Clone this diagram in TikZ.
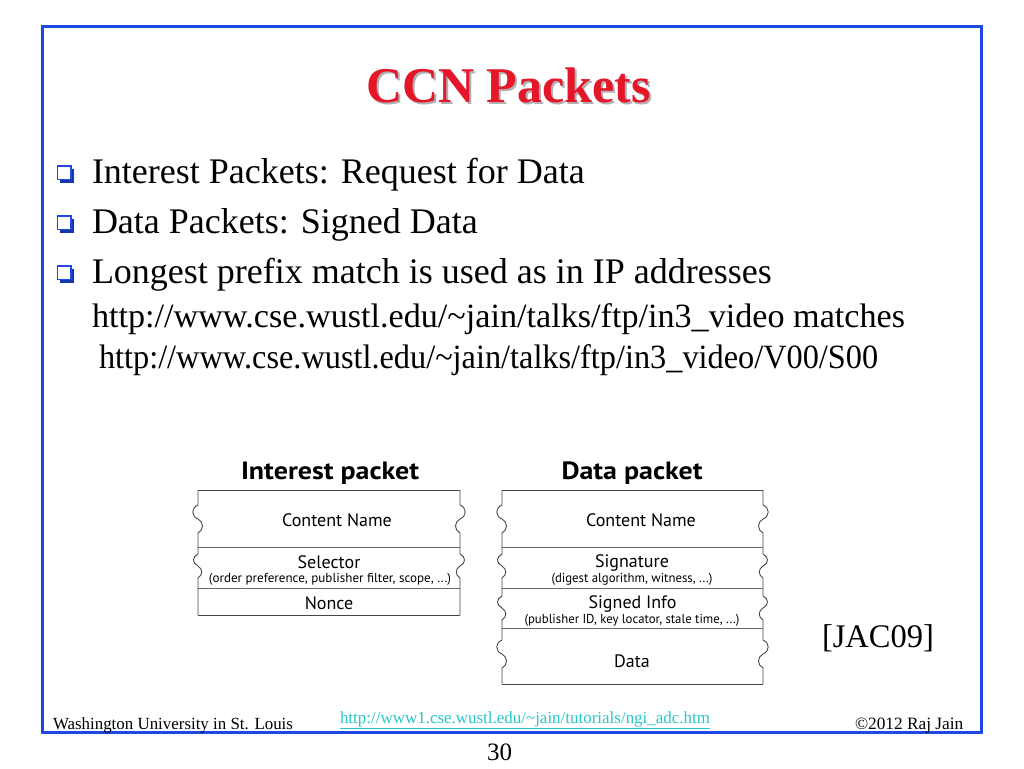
\documentclass[tikz,border=0pt]{standalone}
\usepackage{fontspec}
\usepackage{graphicx}
\setmainfont{Liberation Serif}
\newfontfamily\dsans{PT Sans}
\definecolor{frameblue}{RGB}{30,72,225}
\definecolor{titlered}{RGB}{228,22,40}
\definecolor{shadowgray}{RGB}{175,175,180}
\definecolor{urlcyan}{RGB}{40,200,200}
\definecolor{boxline}{RGB}{70,70,70}
\newcommand\fitw[2]{\resizebox{#1}{\height}{#2}}
\newcommand\shadowtext[1]{\rlap{\kern2pt\raisebox{-2.5pt}{\textcolor{shadowgray}{#1}}}\textcolor{titlered}{#1}}
\newcommand\lwave[2]{-- (#1,#2) .. controls (#1-7,#2+3) and (#1-7,#2+11) .. (#1,#2+14) .. controls (#1+6,#2+17) and (#1+6,#2+25) .. (#1,#2+28)}
\newcommand\rwave[2]{-- (#1,#2) .. controls (#1+7,#2+3) and (#1+7,#2+11) .. (#1,#2+14) .. controls (#1-6,#2+17) and (#1-6,#2+25) .. (#1,#2+28)}
\newcommand\lwaves[2]{-- (#1,#2) .. controls (#1-6,#2+3) and (#1-6,#2+9) .. (#1,#2+12) .. controls (#1+5,#2+15) and (#1+5,#2+21) .. (#1,#2+24)}
\newcommand\rwaves[2]{-- (#1,#2) .. controls (#1+6,#2+3) and (#1+6,#2+9) .. (#1,#2+12) .. controls (#1-5,#2+15) and (#1-5,#2+21) .. (#1,#2+24)}
\begin{document}
\begin{tikzpicture}[x=1pt,y=-1pt,
  txt/.style={inner sep=0pt,outer sep=0pt,anchor=base west,font=\fontsize{36}{40}\selectfont},
  foot/.style={inner sep=0pt,outer sep=0pt,anchor=base west,font=\fontsize{17}{19}\selectfont},
  lbl/.style={inner sep=0pt,outer sep=0pt,anchor=base,font=\dsans\fontsize{18}{20}\selectfont,text=black},
  sub/.style={inner sep=0pt,outer sep=0pt,anchor=base,font=\dsans\fontsize{13}{15}\selectfont,text=black},
  ptitle/.style={inner sep=0pt,outer sep=0pt,anchor=base,font=\dsans\bfseries\fontsize{25}{27}\selectfont,text=black},
  pkt/.style={draw=boxline,line width=0.9pt},
  sep/.style={draw=boxline!80,line width=0.8pt}]
\useasboundingbox (0,0) rectangle (1024,768);
\fill[white] (0,0) rectangle (1024,768);
% frame
\draw[frameblue,line width=3pt] (42,27) rectangle (981,732);
% title with its drop shadow
\node[inner sep=0pt,anchor=base,font=\bfseries\fontsize{50}{54}\selectfont] (title) at (508.5,102) {\shadowtext{CCN Packets}};
% bullets
\foreach \by/\nm in {183/b1,233/b2,283/b3}{
  \fill[frameblue!75!black] (60,\by-14) rectangle (73.5,\by-0.5);
  \draw[frameblue,fill=white,line width=1.4pt] (57.5,\by-17) rectangle (71,\by-3.5) coordinate (\nm);
}
\node[txt] (l1) at (92,183) {Interest Packets: Request for Data};
\node[txt] (l2) at (92,233) {Data Packets: Signed Data};
\node[txt] (l3) at (92,283) {Longest prefix match is used as in IP addresses};
\node[txt,font=\fontsize{34}{38}\selectfont] (l4) at (92,327) {\fitw{813pt}{http://www.cse.wustl.edu/\textasciitilde jain/talks/ftp/in3\_video matches}};
\node[txt,font=\fontsize{34}{38}\selectfont] (l5) at (99,368) {\fitw{779pt}{http://www.cse.wustl.edu/\textasciitilde jain/talks/ftp/in3\_video/V00/S00}};
% Interest packet
\node[ptitle] (ititle) at (330,479) {\fitw{178pt}{Interest packet}};
\draw[pkt] (198,490) -- (460,490);
\draw[pkt] (198,615) -- (460,615);
\draw[sep] (198,547) -- (460,547);
\draw[sep] (198,588) -- (460,588);
\draw[pkt] (198,490) \lwave{198}{505} \lwaves{198}{554} -- (198,615);
\draw[pkt] (460,490) \rwave{460}{505} \rwaves{460}{554} -- (460,615);
\node[lbl] (icn) at (337,526) {Content Name};
\node[lbl] (isel) at (329,568) {Selector};
\node[sub] (iseld) at (330,582) {\fitw{242pt}{(order preference, publisher filter, scope, ...)}};
\node[lbl] (inon) at (329,609) {Nonce};
% Data packet
\node[ptitle] (dtitle) at (632,479) {\fitw{141pt}{Data packet}};
\draw[pkt] (502,490) -- (763,490);
\draw[pkt] (502,684) -- (763,684);
\draw[sep] (502,547) -- (763,547);
\draw[sep] (502,588) -- (763,588);
\draw[sep] (502,628) -- (763,628);
\draw[pkt] (502,490) \lwave{502}{505} \lwaves{502}{554} \lwaves{502}{596} \lwave{502}{640} -- (502,684);
\draw[pkt] (763,490) \rwave{763}{505} \rwaves{763}{554} \rwaves{763}{596} \rwave{763}{640} -- (763,684);
\node[lbl] (dcn) at (641,526) {Content Name};
\node[lbl] (dsig) at (632,567) {Signature};
\node[sub] (dsigd) at (632,582) {\fitw{161pt}{(digest algorithm, witness, ...)}};
\node[lbl] (dsi) at (632.5,608) {Signed Info};
\node[sub] (dsid) at (632,623) {\fitw{215pt}{(publisher ID, key locator, stale time, ...)}};
\node[lbl] (ddata) at (632,667) {Data};
% reference
\node[txt,font=\fontsize{33}{36}\selectfont] (ref) at (822,647) {\fitw{112pt}{[JAC09]}};
% footer
\node[foot] (univ) at (53,729.5) {\fitw{240pt}{Washington University in St. Louis}};
\node[foot,text=urlcyan] (url) at (340,723.5) {\fitw{370pt}{\underline{http://www1.cse.wustl.edu/\textasciitilde jain/tutorials/ngi\_adc.htm}}};
\node[foot,font=\fontsize{17.3}{19}\selectfont] (copy) at (855,729.5) {©2012 Raj Jain};
\node[foot,font=\fontsize{25}{27}\selectfont] (page) at (487,760) {30};
\end{tikzpicture}
\end{document}
